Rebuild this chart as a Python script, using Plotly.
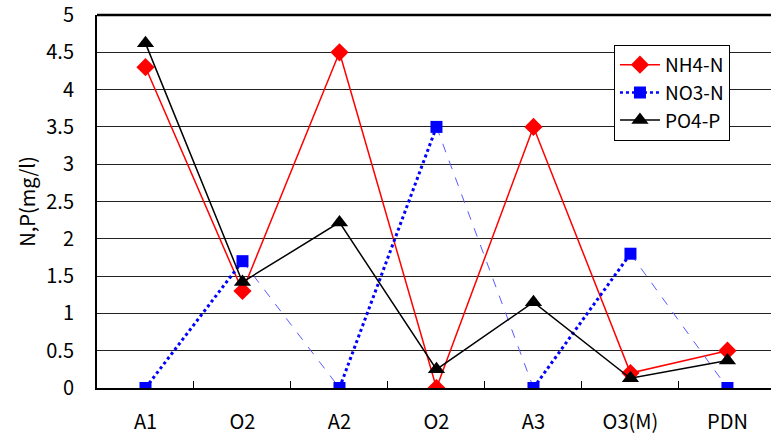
import plotly.graph_objects as go

categories = ["A1", "O2", "A2", "O2", "A3", "O3(M)", "PDN"]
nh4_n = [4.3, 1.3, 4.5, 0.0, 3.5, 0.2, 0.5]
no3_n = [0.0, 1.7, 0.0, 3.5, 0.0, 1.8, 0.0]
po4_p = [4.62, 1.42, 2.22, 0.25, 1.15, 0.13, 0.37]
y_ticks = [0, 0.5, 1, 1.5, 2, 2.5, 3, 3.5, 4, 4.5, 5]
y_tick_text = ["0", "0.5", "1", "1.5", "2", "2.5", "3", "3.5", "4", "4.5", "5"]

xs = list(range(len(categories)))
FONT = "Noto Sans CJK JP, Liberation Sans, Arial, sans-serif"

fig = go.Figure()
fig.add_trace(go.Scatter(
    x=xs, y=nh4_n, name="NH4-N", mode="lines+markers",
    line=dict(color="#ff0000", width=1.5),
    marker=dict(symbol="diamond", size=14, color="#ff0000"),
))

# NO3-N: rising segments render as heavy dots, falling ones as fine dashes
for i in range(len(xs) - 1):
    rising = no3_n[i + 1] > no3_n[i]
    fig.add_trace(go.Scatter(
        x=xs[i:i + 2], y=no3_n[i:i + 2], mode="lines", showlegend=False,
        hoverinfo="skip",
        line=dict(color="#0000ff" if rising else "#5a5aff",
                  width=3 if rising else 1,
                  dash="dot" if rising else "dash"),
    ))
fig.add_trace(go.Scatter(
    x=xs, y=no3_n, name="NO3-N", mode="markers", showlegend=False,
    marker=dict(symbol="square", size=12, color="#0000ff"),
))
fig.add_trace(go.Scatter(
    x=[None], y=[None], name="NO3-N", mode="lines+markers",
    line=dict(color="#0000ff", width=2.5, dash="dot"),
    marker=dict(symbol="square", size=12, color="#0000ff"),
))

fig.add_trace(go.Scatter(
    x=xs, y=po4_p, name="PO4-P", mode="lines+markers",
    line=dict(color="#000000", width=1.5),
    marker=dict(symbol="triangle-up", size=15, color="#000000"),
))

# top frame line of the plot area
fig.add_shape(type="line", xref="paper", yref="paper", x0=0, x1=1, y0=1, y1=1,
              layer="above", line=dict(color="black", width=2.5))

fig.update_layout(
    width=771, height=442,
    margin=dict(l=97, r=0, t=15, b=54, autoexpand=False),
    paper_bgcolor="white", plot_bgcolor="white",
    font=dict(family=FONT, size=18, color="black"),
    showlegend=True,
    legend=dict(
        x=0.767, y=0.92, xanchor="left", yanchor="top",
        bgcolor="white", bordercolor="black", borderwidth=1,
        font=dict(size=19, family=FONT), itemwidth=40,
        tracegroupgap=0,
    ),
    xaxis=dict(
        range=[-0.5, 6.449], automargin=False,
        tickmode="array", tickvals=xs, ticktext=categories,
        ticks="", showgrid=False, zeroline=False,
        showline=True, linecolor="black", linewidth=2,
        ticklabelstandoff=15,
        tickfont=dict(size=20, family=FONT),
        minor=dict(tickmode="array", tickvals=[i + 0.5 for i in xs],
                   ticks="inside", ticklen=7, tickcolor="black", tickwidth=1,
                   showgrid=False),
    ),
    yaxis=dict(
        range=[0, 5], automargin=False,
        tickmode="array", tickvals=y_ticks, ticktext=y_tick_text,
        ticks="", showgrid=True, gridcolor="#222222", gridwidth=1,
        zeroline=False, showline=True, linecolor="black", linewidth=2,
        ticklabelstandoff=17, ticklabeloverflow="allow",
        tickfont=dict(size=20, family=FONT),
        title=dict(text="N,P(mg/l)", font=dict(size=20, family=FONT), standoff=5),
    ),
)

fig.write_html(
    "out.html",
    config={"displayModeBar": False},
    post_script="document.body.style.margin='0';document.body.style.overflow='hidden';",
)
